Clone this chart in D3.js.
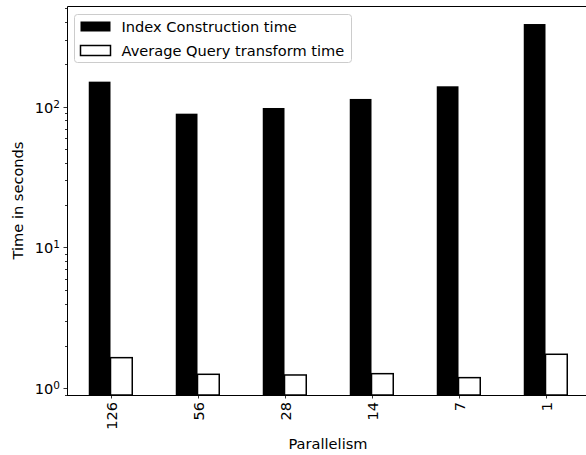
<!DOCTYPE html>
<meta charset="utf-8">
<script src="https://cdn.jsdelivr.net/npm/d3@7"></script>
<style>
  body { margin: 0; background: #fff; }
  svg text { font-family: "DejaVu Sans", sans-serif; fill: #000; }
</style>
<body>
<script>
// data
var categories = ["126", "56", "28", "14", "7", "1"];
var indexTimes = [150.6, 89.2, 97.9, 113.5, 139.6, 386.5];
var queryTimes = [1.65, 1.257, 1.243, 1.27, 1.19, 1.744];
var seriesNames = ["Index Construction time", "Average Query transform time"];
var yMajorTicks = [1, 10, 100];

var W = 586, H = 455;
var mLeft = 67, mRight = 589, mTop = 6, mBottom = 395;
var barW = 0.25;
var fs = "14.6px";

var svg = d3.select("body").append("svg").attr("width", W).attr("height", H);

var x = d3.scaleLinear().domain([-0.5, categories.length - 0.5]).range([mLeft, mRight]);
var y = d3.scaleLog().domain([0.896, 519]).range([mBottom, mTop]);

// bars
var g = svg.append("g");
g.selectAll("rect.idx").data(indexTimes).enter().append("rect")
  .attr("class", "idx")
  .attr("x", function (d, i) { return x(i - barW); })
  .attr("width", function () { return x(barW) - x(0); })
  .attr("y", function (d) { return y(d); })
  .attr("height", function (d) { return mBottom - y(d); })
  .style("fill", "#000");

g.selectAll("rect.qry").data(queryTimes).enter().append("rect")
  .attr("class", "qry")
  .attr("x", function (d, i) { return x(i); })
  .attr("width", function () { return x(barW) - x(0); })
  .attr("y", function (d) { return y(d); })
  .attr("height", function (d) { return mBottom - y(d); })
  .style("fill", "#fff").style("stroke", "#000").style("stroke-width", 1.5);

// y minor ticks
var minor = [];
[0.1, 1, 10, 100].forEach(function (dec) {
  for (var k = 2; k <= 9; k++) {
    var v = dec * k;
    if (v >= y.domain()[0] && v <= y.domain()[1]) minor.push(v);
  }
});
svg.append("g").selectAll("line").data(minor).enter().append("line")
  .attr("x1", mLeft - 2).attr("x2", mLeft)
  .attr("y1", function (d) { return Math.round(y(d)) + 0.5; })
  .attr("y2", function (d) { return Math.round(y(d)) + 0.5; })
  .style("stroke", "#000").style("stroke-width", 0.8);

// y major ticks
var ym = svg.append("g").selectAll("g").data(yMajorTicks).enter().append("g")
  .attr("transform", function (d) { return "translate(0," + (Math.round(y(d)) + 0.5) + ")"; });
ym.append("line").attr("x1", mLeft - 3.5).attr("x2", mLeft)
  .style("stroke", "#000").style("stroke-width", 0.8);
var yl = ym.append("text").attr("x", mLeft - 7).attr("dy", "0.36em")
  .attr("text-anchor", "end").style("font-size", fs);
yl.append("tspan").text("10");
yl.append("tspan").attr("dy", "-0.45em").style("font-size", "10.5px")
  .text(function (d) { return Math.round(Math.log10(d)); });

// x ticks
var xt = svg.append("g").selectAll("g").data(categories).enter().append("g")
  .attr("transform", function (d, i) { return "translate(" + (Math.round(x(i)) + 0.5) + "," + mBottom + ")"; });
xt.append("line").attr("y1", 0).attr("y2", 3.5).style("stroke", "#000").style("stroke-width", 0.8);
xt.append("text").attr("transform", "translate(0,7) rotate(-90)")
  .attr("text-anchor", "end").attr("dy", "0.35em")
  .style("font-size", fs).text(function (d) { return d; });

// spines (left, bottom, top; right is off the picture)
svg.append("path")
  .attr("d", "M" + (mLeft + 0.5) + "," + mBottom + "V" + (mTop + 0.5) + "H" + mRight)
  .style("fill", "none").style("stroke", "#000").style("stroke-width", 1);
svg.append("line").attr("x1", mLeft).attr("x2", mRight)
  .attr("y1", mBottom + 0.5).attr("y2", mBottom + 0.5)
  .style("stroke", "#000").style("stroke-width", 1);

// axis labels
svg.append("text").attr("x", (mLeft + mRight) / 2).attr("y", 449)
  .attr("text-anchor", "middle").style("font-size", fs).text("Parallelism");
svg.append("text").attr("transform", "translate(23," + ((mTop + mBottom) / 2) + ") rotate(-90)")
  .attr("text-anchor", "middle").style("font-size", fs).text("Time in seconds");

// legend
var lg = svg.append("g").attr("transform", "translate(74.5,14.5)");
lg.append("rect").attr("width", 277).attr("height", 48).attr("rx", 3)
  .style("fill", "#fff").style("fill-opacity", 0.8).style("stroke", "#ccc");
seriesNames.forEach(function (name, i) {
  var row = lg.append("g").attr("transform", "translate(0," + (i * 24) + ")");
  row.append("rect").attr("x", 6).attr("y", 7).attr("width", 30).attr("height", 10)
    .style("fill", i === 0 ? "#000" : "#fff").style("stroke", "#000").style("stroke-width", i === 0 ? 0 : 1.5);
  row.append("text").attr("x", 47).attr("y", 12).attr("dy", "0.35em")
    .style("font-size", fs).text(name);
});
</script>
</body>
